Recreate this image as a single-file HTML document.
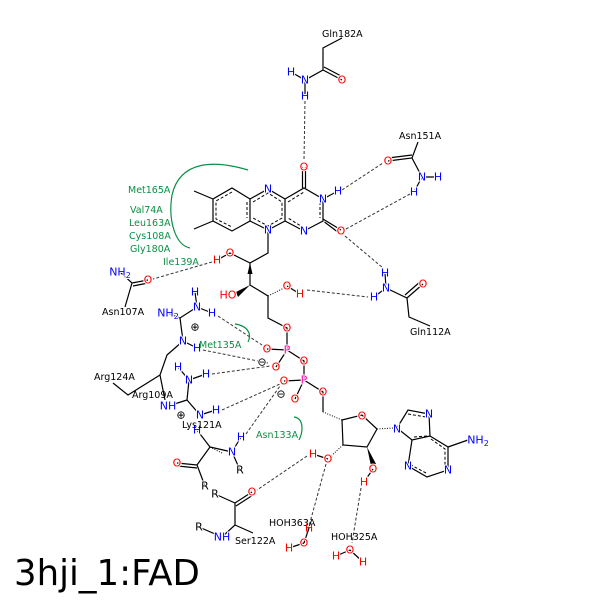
<!DOCTYPE html>
<html><head><meta charset="utf-8"><style>
html,body{margin:0;padding:0;background:#fff;}
svg{display:block}
text{font-family:"DejaVu Sans","Liberation Sans",sans-serif;}
.a text,.a{font-size:11px;text-anchor:middle;dominant-baseline:central;paint-order:stroke;stroke:#fff;stroke-width:2px}
.l{font-size:9.5px;fill:#000}
.g{font-size:9.5px;fill:#0a8f45}
.N{fill:#0000ff}.O{fill:#ff0000}.P{fill:#ff00aa}
</style></head><body>
<svg width="600" height="600" viewBox="0 0 600 600" xmlns="http://www.w3.org/2000/svg">
<g stroke="#000" stroke-width="1.2" fill="none">
<path d="M250,199 L232,188 L213,199 L213,221 L232,231 L250,221 Z"/>
<path d="M213,199 L194,191 M213,221 L194,229"/>
<path d="M250,199 L268,189 L285,199 L285,221 L268,230 L250,221"/>
<path d="M285,199 L304,188 L323,199 L323,221 L304,231 L285,221"/>
<path d="M302.5,188 L302.5,167 M305.5,188 L305.5,167"/>
<path d="M323,219 L341,230 M324.5,222 L339,233"/>
<path d="M323,199 L338,191"/>
<path d="M268,230 L268,253 L250,263 L250,285 L268,296 L268,318 L287,328 L287,350 L267,349 M287,350 L276,367 M287,350 L304,361 L304,380 L284,381 M304,380 L295,399 M304,380 L323,392 L323,412"/>
<path d="M250,263 L230,253 L217,260"/>
<path d="M287,286 L300,294"/>
<path d="M342,420 L362,415 L377,429 L367,447 L343,445 Z"/>
<path d="M328,459 L313,454 M373,469 L364,482"/>
<path d="M397,428 L408,410 L429,414 L430,436 L412,440 Z"/>
<path d="M430,436 L448,447 L448,470 L427,477 L408,466 L412,440"/>
<path d="M448,447 L468,440"/>
<path d="M342,38 L323,48 L323,70 L305,80 L291,72 M305,80 L305,96 M323,70 L342,80 M324,67 L343,77"/>
<path d="M418,142 L412,158 L388,161 M412,155 L388,158 M412,158 L422,177 L438,177 M422,177 L414,192"/>
<path d="M385,273 L386,288 L374,297 M386,288 L407,298 L423,284 M405,295 L421,281 M407,298 L409,317 L430,326"/>
<path d="M120,272 L132,283 L148,280 M133,286 L148,283 M132,283 L125,307"/>
<path d="M195,292 L197,307 L212,313 M197,307 L180,318 L168,313 M180,318 L183,341 L197,348 M183,341 L167,355 L160,375 L128,395 L113,383"/>
<path d="M178,367 L189,380 L206,374 M189,380 L187,400 L168,406 M187,400 L200,415 L216,410 M160,375 L165,400"/>
<path d="M197,430 L210,447 L197,465 L177,463 M197,468 L178,466 M197,465 L205,486 M210,447 L232,452 M232,452 L241,437 M232,452 L240,470"/>
<path d="M215,494 L235,503 L252,492 M236,506 L253,495 M235,503 L235,525 L222,537 L199,527 M235,525 L253,533"/>
<path d="M304,543 L309,528 M304,543 L289,548 M350,550 L336,556 M350,550 L363,562"/>
</g>
<g stroke="#000" stroke-width="1" stroke-dasharray="3,2" fill="none">
<path d="M232,192 L216,201 L216,219 L232,227 M247,202 L247,218"/>
<path d="M253,202 L268,193 L282,202 L282,218 L268,226 L253,218"/>
<path d="M288,202 L304,192 M320,202 L320,218 M304,228 L288,218"/>
<path d="M408,414 L426,417 M427,436 L414,437 M431,439 L445,449 L445,468 M426,473 L411,465"/>
</g>
<polygon points="250,263 247.5,274 252.5,274" fill="#000"/>
<polygon points="250,285 236,292 238,297" fill="#000"/>
<polygon points="367,447 371,466 376,464" fill="#000"/>
<g stroke="#000" stroke-width="1" stroke-dasharray="1,1.5">
<path d="M342,420 L323,412 M343,445 L331,456 M377,429 L393,428 M268,296 L284,288 M210,447 L222,453"/>
</g>
<g stroke="#333" stroke-width="1" stroke-dasharray="3,2" fill="none">
<path d="M305,101 L304,160"/>
<path d="M342,190 L383,163"/>
<path d="M410,194 L346,229"/>
<path d="M345,236 L383,268"/>
<path d="M307,290 L368,297"/>
<path d="M212,262 L153,279"/>
<path d="M218,316 L262,345"/>
<path d="M203,350 L268,363"/>
<path d="M212,374 L270,366"/>
<path d="M222,410 L280,384"/>
<path d="M246,434 L280,386"/>
<path d="M307,456 L257,490"/>
<path d="M326,464 L306,537"/>
<path d="M361,488 L352,543"/>
</g>
<g stroke="#0a8f45" stroke-width="1.2" fill="none">
<path d="M248,170 C215,160 180,160 172,195 C168,220 175,245 190,248"/>
<path d="M235,324 C248,326 252,334 248,342"/>
<path d="M294,417 C303,418 304,430 299,440"/>
</g>
<g class="a">
<text x="268" y="189" class="N">N</text><text x="268" y="230" class="N">N</text>
<text x="323" y="199" class="N">N</text><text x="338" y="191" class="N">H</text>
<text x="304" y="231" class="N">N</text>
<text x="304" y="167" class="O">O</text><text x="341" y="231" class="O">O</text>
<text x="230" y="253" class="O">O</text><text x="217" y="260" class="O">H</text>
<text x="228" y="295" class="O">HO</text>
<text x="287" y="286" class="O">O</text><text x="300" y="294" class="O">H</text>
<text x="287" y="328" class="O">O</text>
<text x="287" y="350" class="P">P</text>
<text x="267" y="349" class="O">O</text><text x="276" y="367" class="O">O</text>
<text x="262" y="362" style="fill:#000">⊖</text>
<text x="304" y="361" class="O">O</text>
<text x="304" y="380" class="P">P</text>
<text x="284" y="381" class="O">O</text><text x="295" y="399" class="O">O</text>
<text x="281" y="394" style="fill:#000">⊖</text>
<text x="323" y="392" class="O">O</text>
<text x="362" y="416" class="O">O</text>
<text x="328" y="459" class="O">O</text><text x="313" y="454" class="O">H</text>
<text x="373" y="469" class="O">O</text><text x="364" y="482" class="O">H</text>
<text x="397" y="429" class="N">N</text><text x="429" y="414" class="N">N</text>
<text x="448" y="470" class="N">N</text><text x="408" y="466" class="N">N</text>
<text x="478" y="440" class="N">NH<tspan font-size="8" dy="3">2</tspan></text>
<text x="305" y="80" class="N">N</text><text x="291" y="72" class="N">H</text><text x="305" y="96" class="N">H</text>
<text x="342" y="80" class="O">O</text>
<text x="388" y="161" class="O">O</text><text x="422" y="177" class="N">N</text>
<text x="438" y="177" class="N">H</text><text x="414" y="192" class="N">H</text>
<text x="385" y="273" class="N">H</text><text x="386" y="288" class="N">N</text><text x="374" y="297" class="N">H</text>
<text x="423" y="284" class="O">O</text>
<text x="120" y="272" class="N">NH<tspan font-size="8" dy="3">2</tspan></text>
<text x="148" y="280" class="O">O</text>
<text x="195" y="292" class="N">H</text><text x="197" y="307" class="N">N</text><text x="212" y="313" class="N">H</text>
<text x="168" y="313" class="N">NH<tspan font-size="8" dy="3">2</tspan></text>
<text x="195" y="327" style="fill:#000">⊕</text>
<text x="183" y="341" class="N">N</text><text x="197" y="348" class="N">H</text>
<text x="178" y="367" class="N">H</text><text x="189" y="380" class="N">N</text><text x="206" y="374" class="N">H</text>
<text x="168" y="406" class="N">NH</text>
<text x="200" y="415" class="N">N</text><text x="216" y="410" class="N">H</text>
<text x="181" y="415" style="fill:#000">⊕</text>
<text x="197" y="430" class="N">H</text>
<text x="232" y="452" class="N">N</text><text x="241" y="437" class="N">H</text>
<text x="240" y="470" style="fill:#000">R</text>
<text x="177" y="463" class="O">O</text><text x="205" y="486" style="fill:#000">R</text>
<text x="215" y="494" style="fill:#000">R</text><text x="252" y="492" class="O">O</text>
<text x="222" y="537" class="N">NH</text><text x="199" y="527" style="fill:#000">R</text>
<text x="304" y="543" class="O">O</text><text x="289" y="548" class="O">H</text>
<text x="350" y="550" class="O">O</text><text x="336" y="556" class="O">H</text><text x="363" y="562" class="O">H</text>
</g>
<g class="l">
<text x="322" y="37">Gln182A</text>
<text x="399" y="139">Asn151A</text>
<text x="410" y="335">Gln112A</text>
<text x="102" y="315">Asn107A</text>
<text x="94" y="380">Arg124A</text>
<text x="132" y="398">Arg109A</text>
<text x="182" y="428">Lys121A</text>
<text x="235" y="544">Ser122A</text>
<text x="269" y="526">HOH363A</text>
<text x="331" y="540">HOH325A</text>
</g>
<text x="309" y="528" font-size="11" text-anchor="middle" dominant-baseline="central" class="O">H</text>
<g class="g">
<text x="128" y="193">Met165A</text>
<text x="130" y="213">Val74A</text>
<text x="129" y="226">Leu163A</text>
<text x="129" y="239">Cys108A</text>
<text x="130" y="252">Gly180A</text>
<text x="163" y="265">Ile139A</text>
<text x="199" y="348">Met135A</text>
<text x="256" y="438">Asn133A</text>
</g>
<text x="14" y="585" font-size="35.5" fill="#000">3hji_1:FAD</text>
</svg>
</body></html>
